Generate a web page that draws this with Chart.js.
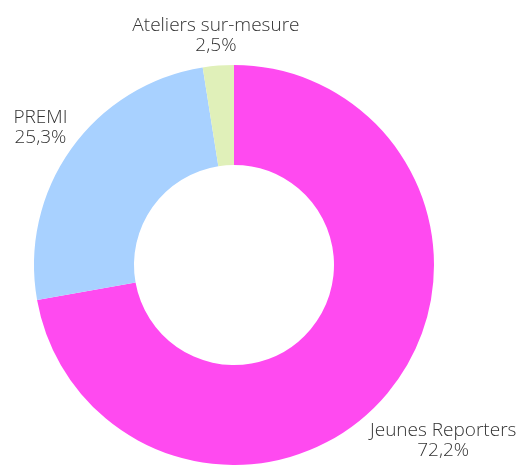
<!DOCTYPE html>
<html>
<head>
<meta charset="utf-8">
<script src="https://cdn.jsdelivr.net/npm/chart.js@4/dist/chart.umd.min.js"></script>
<style>
html,body{margin:0;padding:0;background:#fff;}
#wrap{width:523px;height:465px;position:relative;}
</style>
</head>
<body>
<div id="wrap"><canvas id="c" width="523" height="465"></canvas></div>
<script>
const categories = ["Jeunes Reporters", "PREMI", "Ateliers sur-mesure"];
const shares = [72.2, 25.3, 2.5];
const shareLabels = ["72,2%", "25,3%", "2,5%"];
const colors = ["#FF4AF0", "#A8D1FF", "#E0F0B9"];

const FONT = '300 19px "Open Sans"';
const LINE = 20;

const outLabels = {
  id: 'outLabels',
  afterDatasetsDraw(chart) {
    const ctx = chart.ctx;
    const meta = chart.getDatasetMeta(0);
    ctx.save();
    ctx.font = FONT;
    ctx.fillStyle = '#333333';
    ctx.textAlign = 'center';
    ctx.textBaseline = 'middle';
    meta.data.forEach((arc, i) => {
      const p = arc.getProps(['x','y','startAngle','endAngle','outerRadius'], true);
      const mid = (p.startAngle + p.endAngle) / 2;
      const dx = Math.cos(mid), dy = Math.sin(mid);
      const lines = [categories[i], shareLabels[i]];
      const w = Math.max(...lines.map(l => ctx.measureText(l).width));
      const h = LINE * lines.length;
      const proj = Math.abs(dx) * w / 2 + Math.abs(dy) * h / 2;
      const r = p.outerRadius + 4 + proj;
      const cx = p.x + dx * r, cy = p.y + dy * r;
      lines.forEach((l, k) => {
        ctx.fillText(l, cx, cy + (k - (lines.length - 1) / 2) * LINE);
      });
    });
    ctx.restore();
  }
};

new Chart(document.getElementById('c'), {
  type: 'doughnut',
  data: {
    labels: categories,
    datasets: [{
      data: shares,
      backgroundColor: colors,
      borderWidth: 0
    }]
  },
  options: {
    responsive: false,
    animation: false,
    cutout: '50%',
    layout: { padding: { left: 34, right: 89, top: 65, bottom: 0 } },
    plugins: { legend: { display: false }, tooltip: { enabled: false } }
  },
  plugins: [outLabels]
});
</script>
</body>
</html>
